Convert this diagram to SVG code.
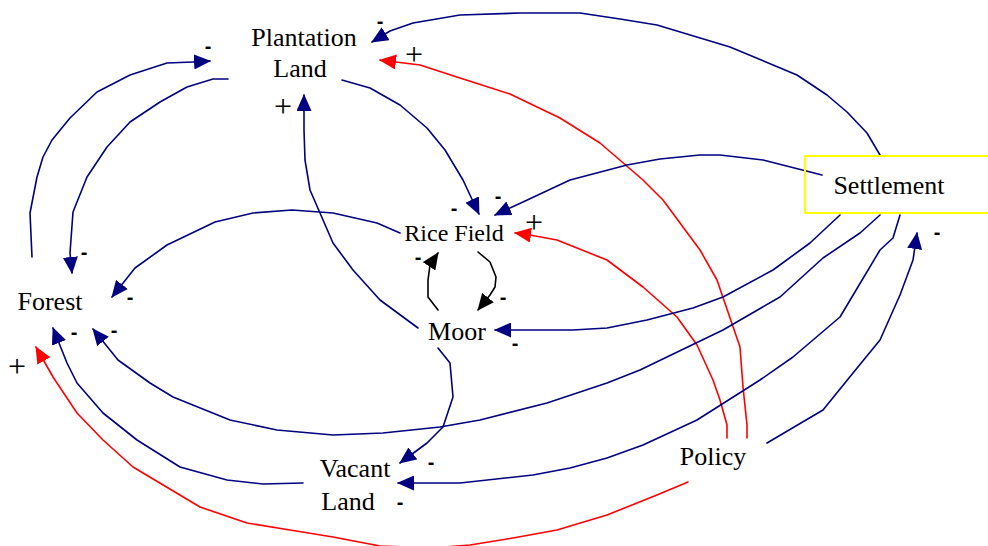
<svg xmlns="http://www.w3.org/2000/svg" width="988" height="546" viewBox="0 0 988 546">
<defs>
<style>
.n{font-family:"Liberation Serif","Times New Roman",serif;font-size:26px;fill:#000;text-anchor:middle}
.c{fill:none;stroke-width:1.6;stroke-linejoin:round;stroke-linecap:round}
.b{stroke:#000080;marker-end:url(#ab)}
.r{stroke:#ff0000;marker-end:url(#ar)}
.k{stroke:#000;marker-end:url(#ak)}
.m{font-family:"Liberation Sans",Arial,sans-serif;font-size:20px;font-weight:bold;fill:#000;text-anchor:middle}
.p{font-family:"Liberation Serif","Times New Roman",serif;font-size:32px;fill:#000;text-anchor:middle}
</style>
<marker id="ab" viewBox="0 0 17 15" refX="16" refY="7.5" markerWidth="17" markerHeight="15" markerUnits="userSpaceOnUse" orient="auto"><path d="M0,0 L17,7.5 L0,15 z" fill="#000080"/></marker>
<marker id="ar" viewBox="0 0 17 15" refX="16" refY="7.5" markerWidth="17" markerHeight="15" markerUnits="userSpaceOnUse" orient="auto"><path d="M0,0 L17,7.5 L0,15 z" fill="#ff0000"/></marker>
<marker id="ak" viewBox="0 0 17 15" refX="16" refY="7.5" markerWidth="17" markerHeight="15" markerUnits="userSpaceOnUse" orient="auto"><path d="M0,0 L17,7.5 L0,15 z" fill="#000"/></marker>
</defs>
<rect width="988" height="546" fill="#fff"/>
<g id="connectors">
<path class="c b" d="M32,257 L30,213 L37,177 L43,157 L52,140 L70,118 L97,92 L130,75 L167,63 L193,62 L210,61"/>
<path class="c b" d="M228,79 L213,79 L187,87 L160,102 L130,122 L107,147 L87,177 L73,212 L70,253 L72,273"/>
<path class="c b" d="M880,155 L867,133 L847,112 L827,95 L797,75 L730,47 L657,25 L620,19 L580,13 L520,13 L460,15 L413,23 L390,31 L372,42"/>
<path class="c r" d="M747,438 L747,425 L743,387 L740,347 L717,280 L700,250 L663,200 L643,180 L600,143 L560,118 L510,94 L460,78 L420,65 L380,60"/>
<path class="c b" d="M342,80 L370,88 L400,105 L427,128 L445,150 L463,180 L470,195 L479,214"/>
<path class="c b" d="M418,328 L380,300 L353,270 L333,243 L320,213 L310,190 L305,160 L304,130 L304,95"/>
<path class="c b" d="M822,175 L763,160 L720,155 L700,155 L660,159 L627,165 L570,180 L523,202 L495,215"/>
<path class="c r" d="M727,438 L727,425 L720,400 L713,380 L697,345 L677,317 L643,287 L607,260 L557,240 L530,235 L515,233"/>
<path class="c b" d="M400,233 L377,223 L333,213 L292,210 L253,213 L215,222 L167,245 L135,268 L112,297"/>
<path class="c k" d="M478,252 L490,262 L496,277 L495,287 L490,295 L478,310"/>
<path class="c k" d="M438,310 L428,297 L428,280 L430,265 L438,253"/>
<path class="c b" d="M840,215 L810,243 L773,270 L723,297 L693,308 L647,320 L607,328 L573,330 L495,330"/>
<path class="c b" d="M880,215 L860,233 L823,258 L780,297 L723,330 L640,370 L607,383 L547,403 L480,420 L440,427 L383,433 L333,435 L277,430 L230,420 L173,397 L150,383 L118,360 L93,329"/>
<path class="c b" d="M900,215 L893,238 L880,250 L840,317 L793,357 L760,380 L697,420 L643,445 L607,458 L570,468 L533,475 L460,483 L398,483"/>
<path class="c b" d="M438,348 L450,363 L453,397 L443,427 L427,443 L400,463"/>
<path class="c b" d="M303,483 L263,484 L227,480 L180,467 L137,440 L103,413 L77,383 L67,363 L53,328"/>
<path class="c r" d="M688,482 L657,495 L607,515 L557,530 L513,538 L470,545 L433,548 L380,546 L333,537 L290,530 L247,523 L200,507 L133,467 L103,440 L77,413 L53,377 L36,347"/>
<path class="c b" d="M767,443 L823,410 L853,373 L880,340 L900,295 L913,260 L917,233"/>
</g>
<g id="polarities">
<text class="m" x="208" y="53">-</text>
<text class="m" x="84" y="259">-</text>
<text class="m" x="380" y="28">-</text>
<text class="p" x="414" y="65">+</text>
<text class="p" x="283" y="117">+</text>
<text class="m" x="454" y="215">-</text>
<text class="m" x="498" y="203">-</text>
<text class="p" x="534" y="233">+</text>
<text class="m" x="130" y="304">-</text>
<text class="m" x="418" y="264">-</text>
<text class="m" x="503" y="304">-</text>
<text class="m" x="515" y="350">-</text>
<text class="m" x="74" y="339">-</text>
<text class="m" x="114" y="337">-</text>
<text class="p" x="17" y="377">+</text>
<text class="m" x="431" y="469">-</text>
<text class="m" x="400" y="509">-</text>
<text class="m" x="937" y="239">-</text>
</g>
<g id="plantation-land"><text class="n" x="304" y="46">Plantation</text><text class="n" x="300" y="77">Land</text></g>
<g id="rice-field"><text class="n" x="454" y="241" style="font-size:24px">Rice Field</text></g>
<g id="moor"><text class="n" x="457" y="340">Moor</text></g>
<g id="forest"><text class="n" x="50" y="310">Forest</text></g>
<g id="settlement"><rect x="805" y="156" width="190" height="57" fill="none" stroke="#ffff00" stroke-width="2"/><text class="n" x="889" y="194">Settlement</text></g>
<g id="vacant-land"><text class="n" x="355" y="477">Vacant</text><text class="n" x="348" y="510">Land</text></g>
<g id="policy"><text class="n" x="713" y="465">Policy</text></g>
</svg>
